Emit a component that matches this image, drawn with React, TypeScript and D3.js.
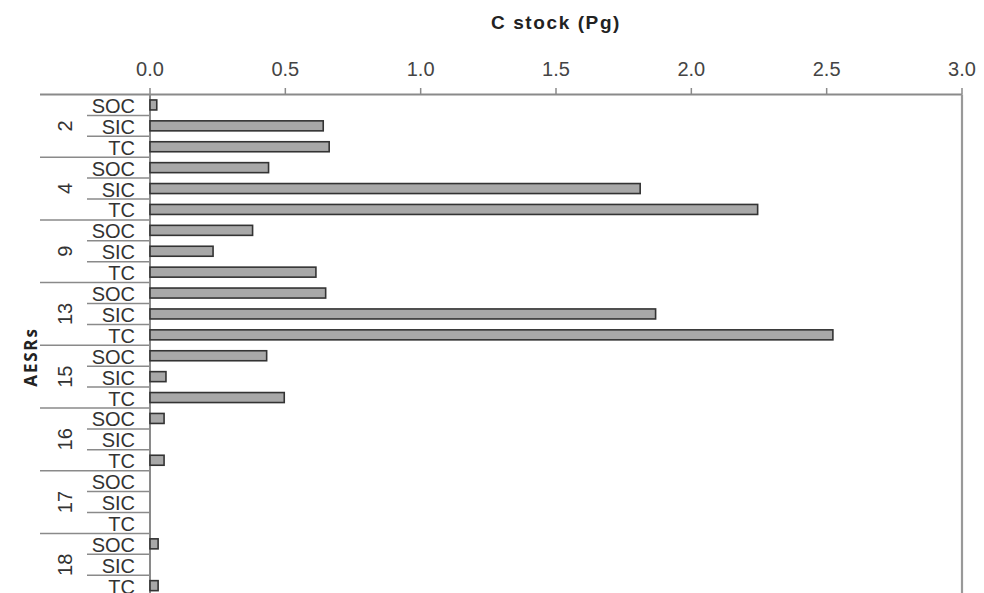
import React, { useEffect } from "react";
import * as d3 from "d3";

const groups = ["2", "4", "9", "13", "15", "16", "17", "18"];
const subs = ["SOC", "SIC", "TC"];
const socValues = [0.025, 0.438, 0.379, 0.649, 0.431, 0.052, 0, 0.03];
const sicValues = [0.64, 1.811, 0.233, 1.868, 0.059, 0, 0, 0];
const tcValues = [0.662, 2.245, 0.613, 2.523, 0.496, 0.052, 0, 0.03];
const xTicks = [0, 0.5, 1.0, 1.5, 2.0, 2.5, 3.0];

const W = 984;
const H = 593;
const top = 94.5;
const rowH = 20.9;
const left = 150;
const right = 962;

export default function App() {
  useEffect(() => {
    document.body.style.margin = "0";
  }, []);

  const rows: { g: string; s: string; v: number; gi: number; si: number }[] = [];
  groups.forEach((g, gi) => {
    const vals = [socValues[gi], sicValues[gi], tcValues[gi]];
    subs.forEach((s, si) => rows.push({ g, s, v: vals[si], gi, si }));
  });

  const x = d3.scaleLinear().domain([0, 3]).range([left, right]);
  const y = d3
    .scaleBand<number>()
    .domain(d3.range(rows.length))
    .range([top, top + rowH * rows.length])
    .paddingInner(0)
    .paddingOuter(0);
  const barH = 10;
  const font = "'Liberation Sans', Arial, sans-serif";
  const lineCol = "#8a8a8a";
  const textCol = "#333";

  return (
    <svg width={W} height={H} style={{ display: "block", background: "#fff" }}>
      {/* title */}
      <text
        x={x(1.5)}
        y={29}
        textAnchor="middle"
        fontFamily={font}
        fontWeight="bold"
        fontSize={19}
        letterSpacing={1.6}
        fill="#222"
      >
        C stock (Pg)
      </text>
      {/* x tick labels */}
      {xTicks.map((t) => (
        <g key={t}>
          <text
            x={x(t)}
            y={76}
            textAnchor="middle"
            fontFamily={font}
            fontSize={20}
            fill="#444"
          >
            {d3.format(".1f")(t)}
          </text>
          <line x1={x(t)} x2={x(t)} y1={88} y2={top} stroke={lineCol} strokeWidth={1.5} />
        </g>
      ))}
      {/* top axis */}
      <line x1={40} x2={right} y1={top} y2={top} stroke={lineCol} strokeWidth={2} />
      {/* left axis */}
      <line x1={left} x2={left} y1={top} y2={H} stroke={lineCol} strokeWidth={2} />
      {/* right border */}
      <line x1={right} x2={right} y1={top} y2={H} stroke="#999" strokeWidth={2.2} />
      {/* row separators and labels */}
      {rows.map((r, i) => {
        const y0 = y(i) as number;
        const y1 = y0 + rowH;
        const isGroupEnd = r.si === 2;
        return (
          <g key={i}>
            <line
              x1={isGroupEnd ? 40 : 87}
              x2={left}
              y1={y1}
              y2={y1}
              stroke={lineCol}
              strokeWidth={1.5}
            />
            <text
              x={135}
              y={y1 - 2.5}
              textAnchor="end"
              fontFamily={font}
              fontSize={20}
              fill={textCol}
            >
              {r.s}
            </text>
          </g>
        );
      })}
      {/* group labels */}
      {groups.map((g, gi) => {
        const cy = (y(gi * 3 + 1) as number) + rowH / 2;
        return (
          <text
            key={g}
            transform={`translate(65,${cy}) rotate(-90)`}
            textAnchor="middle"
            dominantBaseline="central"
            fontFamily={font}
            fontSize={20}
            fill={textCol}
          >
            {g}
          </text>
        );
      })}
      {/* AESRs */}
      <text
        transform={`translate(30,357) rotate(-90)`}
        textAnchor="middle"
        dominantBaseline="central"
        fontFamily="'Open Sans', sans-serif"
        fontWeight="bold"
        fontSize={17}
        letterSpacing={1.8}
        fill="#222"
      >
        AESRs
      </text>
      {/* bars */}
      {rows.map((r, i) =>
        r.v > 0 ? (
          <rect
            key={"b" + i}
            x={x(0)}
            y={(y(i) as number) + rowH / 2 - barH / 2}
            width={x(r.v) - x(0)}
            height={barH}
            fill="#a8a8a8"
            stroke="#333"
            strokeWidth={1.6}
          />
        ) : null
      )}
    </svg>
  );
}
